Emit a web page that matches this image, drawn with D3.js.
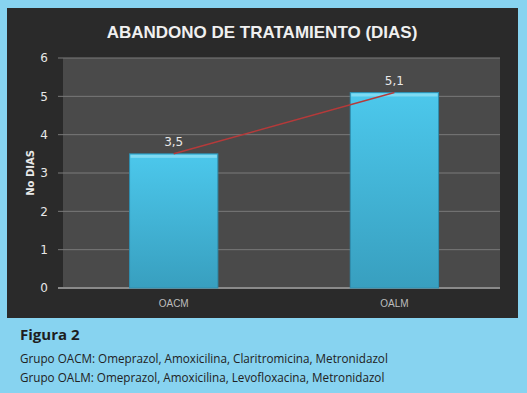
<!DOCTYPE html>
<html>
<head>
<meta charset="utf-8">
<script src="https://cdn.jsdelivr.net/npm/d3@7/dist/d3.min.js"></script>
<style>
  body { margin: 0; background: #87d3f0; }
  svg { display: block; }
</style>
</head>
<body>
<div id="corpo"></div>
<script>
var grupos = ["OACM", "OALM"];
var dias = [3.5, 5.1];
var etiquetas = ["3,5", "5,1"];
var ticksY = [0, 1, 2, 3, 4, 5, 6];
var notas = [
    "Grupo OACM: Omeprazol, Amoxicilina, Claritromicina, Metronidazol",
    "Grupo OALM: Omeprazol, Amoxicilina, Levofloxacina, Metronidazol"
];

var width = 527, height = 393;
var svg = d3.select("#corpo").append("svg")
    .attr("width", width)
    .attr("height", height);

var defs = svg.append("defs");
var grad = defs.append("linearGradient").attr("id", "barra")
    .attr("x1", 0).attr("y1", 0).attr("x2", 0).attr("y2", 1);
grad.append("stop").attr("offset", "0%").attr("stop-color", "#4cc8ec");
grad.append("stop").attr("offset", "100%").attr("stop-color", "#389fbf");

// painel escuro
svg.append("rect")
    .attr("x", 7).attr("y", 8)
    .attr("width", 511).attr("height", 310)
    .style("fill", "#2a2a2a");

svg.append("text")
    .attr("x", 262).attr("y", 38)
    .attr("text-anchor", "middle")
    .style("font-family", "Liberation Sans, Arial, sans-serif")
    .style("font-weight", "bold")
    .style("font-size", "17px")
    .style("fill", "#f0f0f0")
    .text("ABANDONO DE TRATAMIENTO (DIAS)");

var plot = { left: 63, right: 500, top: 58, bottom: 288 };

var x = d3.scaleBand()
    .domain(grupos)
    .range([plot.left, plot.right])
    .paddingInner(0.6)
    .paddingOuter(0.29)
    .align(0.52);

var y = d3.scaleLinear()
    .domain([0, 6])
    .range([plot.bottom, plot.top]);

svg.append("rect")
    .attr("x", plot.left).attr("y", plot.top)
    .attr("width", plot.right - plot.left)
    .attr("height", plot.bottom - plot.top)
    .style("fill", "#4a4a4a");

// grade
svg.append("g").selectAll("line")
    .data(ticksY)
    .enter().append("line")
    .attr("x1", plot.left - 5).attr("x2", plot.right)
    .attr("y1", function(d) { return y(d); })
    .attr("y2", function(d) { return y(d); })
    .style("stroke", function(d) { return d == 0 ? "#8a8a8a" : "#7a7a7a"; })
    .style("stroke-width", function(d) { return d == 0 ? 2 : 1; });

svg.append("g").selectAll("text")
    .data(ticksY)
    .enter().append("text")
    .attr("x", 48)
    .attr("y", function(d) { return y(d); })
    .attr("dy", ".35em")
    .attr("text-anchor", "end")
    .style("font-family", "DejaVu Sans, sans-serif")
    .style("font-size", "12px")
    .style("fill", "#e8e8e8")
    .text(function(d) { return d; });

svg.append("text")
    .attr("transform", "translate(34," + ((plot.top + plot.bottom) / 2) + ") rotate(-90)")
    .attr("text-anchor", "middle")
    .style("font-family", "DejaVu Sans, sans-serif")
    .style("font-weight", "bold")
    .style("font-size", "10px")
    .style("fill", "#e8e8e8")
    .text("No DIAS");

// barras
var barras = svg.append("g").selectAll(".bar")
    .data(dias)
    .enter().append("g")
    .attr("class", "bar");

barras.append("rect")
    .attr("x", function(d, i) { return x(grupos[i]); })
    .attr("y", function(d) { return y(d); })
    .attr("width", x.bandwidth())
    .attr("height", function(d) { return y(0) - y(d); })
    .style("fill", "url(#barra)")
    .style("stroke", "#2f8fb0")
    .style("stroke-width", 1);

barras.append("rect")
    .attr("x", function(d, i) { return x(grupos[i]) + 1; })
    .attr("y", function(d) { return y(d) + 1; })
    .attr("width", x.bandwidth() - 2)
    .attr("height", 3)
    .style("fill", "#7fdaf2");

// linha vermelha
var linha = d3.line()
    .x(function(d, i) { return x(grupos[i]) + x.bandwidth() / 2; })
    .y(function(d) { return y(d); });

svg.append("path")
    .datum(dias)
    .attr("d", linha)
    .style("fill", "none")
    .style("stroke", "#b53a3a")
    .style("stroke-width", 1.5);

barras.append("text")
    .attr("x", function(d, i) { return x(grupos[i]) + x.bandwidth() / 2; })
    .attr("y", function(d) { return y(d) - 8; })
    .attr("text-anchor", "middle")
    .style("font-family", "DejaVu Sans, sans-serif")
    .style("font-size", "12px")
    .style("fill", "#e8e8e8")
    .text(function(d, i) { return etiquetas[i]; });

svg.append("g").selectAll("text")
    .data(grupos)
    .enter().append("text")
    .attr("x", function(d) { return x(d) + x.bandwidth() / 2; })
    .attr("y", 307)
    .attr("text-anchor", "middle")
    .style("font-family", "Liberation Sans, Arial, sans-serif")
    .style("font-size", "10px")
    .style("fill", "#bdbdbd")
    .text(function(d) { return d; });

// legenda da figura
svg.append("text")
    .attr("x", 20).attr("y", 340)
    .style("font-family", "Open Sans, DejaVu Sans, sans-serif")
    .style("font-weight", "bold")
    .style("font-size", "15px")
    .style("fill", "#1e1e1e")
    .text("Figura 2");

svg.append("g").selectAll("text")
    .data(notas)
    .enter().append("text")
    .attr("x", 20)
    .attr("y", function(d, i) { return 363 + i * 19; })
    .style("font-family", "Open Sans, DejaVu Sans, sans-serif")
    .style("font-size", "11.7px")
    .style("fill", "#222")
    .text(function(d) { return d; });
</script>
</body>
</html>
